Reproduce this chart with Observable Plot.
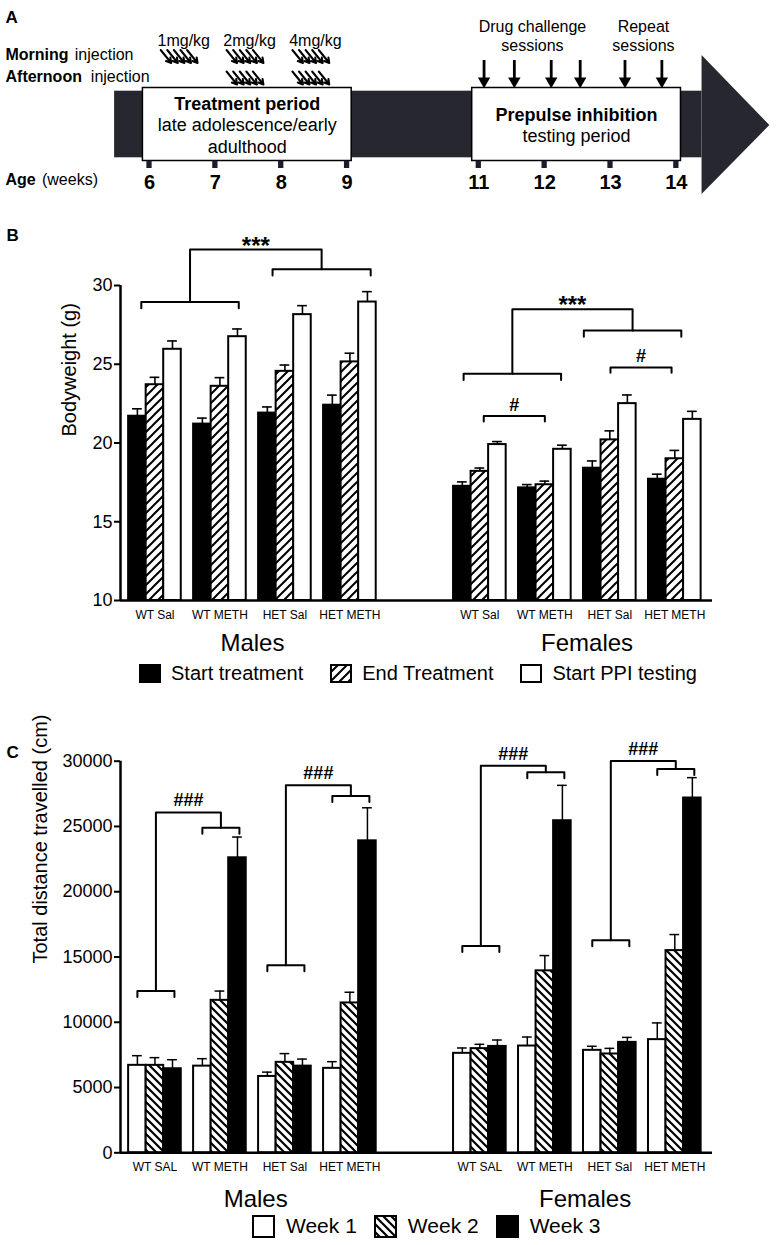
<!DOCTYPE html>
<html><head><meta charset="utf-8">
<script src="https://cdn.jsdelivr.net/npm/d3@7"></script>
<script src="https://cdn.jsdelivr.net/npm/@observablehq/plot@0.6"></script>
<style>
html,body{margin:0;padding:0;background:#fff;}
#page{position:relative;width:776px;height:1245px;overflow:hidden;background:#fff;font-family:"Liberation Sans",Arial,Helvetica,sans-serif;color:#000;}
#page > svg{display:block}
.legend{position:absolute;display:flex;align-items:center;white-space:nowrap;color:#000;}
.legend .item{display:flex;align-items:center;}
.legend .item svg{display:block;flex:none}
</style></head><body>
<svg width="0" height="0" style="position:absolute"><defs>
<pattern id="hatchB" patternUnits="userSpaceOnUse" width="9" height="9"><rect width="9" height="9" fill="white"/><path d="M-2,2 L2,-2 M0,9 L9,0 M7,11 L11,7" stroke="black" stroke-width="2"/></pattern>
<pattern id="hatchC" patternUnits="userSpaceOnUse" width="8" height="8"><rect width="8" height="8" fill="white"/><path d="M-2,6 L2,10 M0,0 L8,8 M6,-2 L10,2" stroke="black" stroke-width="2.2"/></pattern>
</defs></svg>
<div id="page"></div>
<script>
// ---------------- DATA ----------------
// Panel A timeline
const weeks = [6, 7, 8, 9, 11, 12, 13, 14];
const doseLabels = ["1mg/kg", "2mg/kg", "4mg/kg"];
const doseWeeks = [6, 7, 8];
const doseMorning = [true, true, true];
const doseAfternoon = [false, true, true];
const injectionDays = [1, 2, 3, 4, 5];
const sessionWeeks = [11.08, 11.54, 12.10, 12.54, 13.22, 13.78];
const sessionKinds = ["Drug challenge", "Drug challenge", "Drug challenge", "Drug challenge", "Repeat", "Repeat"];
const periodTitles = ["Treatment period", "Prepulse inhibition"];
const periodLines = [["late adolescence/early", "adulthood"], ["testing period"]];
const periodStart = [6, 11];
const periodEnd = [9, 14];

// Panel B: bodyweight (g)
const sexes = ["Males", "Females"];
const groupsBW = ["WT Sal", "WT METH", "HET Sal", "HET METH"];
const bwSeries = ["Start treatment", "End Treatment", "Start PPI testing"];
const bwMaleStart = [21.7, 21.2, 21.9, 22.4];
const bwMaleStartSem = [0.47, 0.38, 0.39, 0.64];
const bwMaleEnd = [23.7, 23.6, 24.55, 25.15];
const bwMaleEndSem = [0.47, 0.55, 0.40, 0.55];
const bwMalePPI = [25.95, 26.75, 28.15, 28.95];
const bwMalePPISem = [0.53, 0.49, 0.57, 0.66];
const bwFemaleStart = [17.25, 17.15, 18.4, 17.7];
const bwFemaleStartSem = [0.28, 0.21, 0.46, 0.32];
const bwFemaleEnd = [18.2, 17.35, 20.2, 19.0];
const bwFemaleEndSem = [0.21, 0.23, 0.57, 0.53];
const bwFemalePPI = [19.9, 19.6, 22.5, 21.5];
const bwFemalePPISem = [0.19, 0.26, 0.55, 0.51];
// significance brackets (bodyweight)
const bwPairFrom = ["WT Sal", "HET Sal"];
const bwPairTo = ["WT METH", "HET METH"];
const bwMaleBracketY = [28.95, 31.03];
const bwMaleJoinY = 32.28;
const bwFemaleBracketY = [24.40, 27.15];
const bwFemaleJoinY = 28.49;
const bwJoinLabel = "***";
const bwHashY = [21.71, 24.80]; // females, WT Sal vs WT METH, HET Sal vs HET METH
const bwHashLabel = "#";

// Panel C: total distance travelled (cm)
const groupsDist = ["WT SAL", "WT METH", "HET Sal", "HET METH"];
const distSeries = ["Week 1", "Week 2", "Week 3"];
const distMaleW1 = [6700, 6640, 5850, 6470];
const distMaleW1Sem = [740, 570, 330, 510];
const distMaleW2 = [6700, 11680, 6930, 11480];
const distMaleW2Sem = [590, 710, 670, 820];
const distMaleW3 = [6440, 22600, 6640, 23900];
const distMaleW3Sem = [690, 1590, 540, 2530];
const distFemaleW1 = [7620, 8180, 7850, 8670];
const distFemaleW1Sem = [410, 690, 310, 1280];
const distFemaleW2 = [7980, 13940, 7570, 15490];
const distFemaleW2Sem = [330, 1170, 430, 1230];
const distFemaleW3 = [8150, 25440, 8460, 27180];
const distFemaleW3Sem = [490, 2710, 380, 1560];
// ### brackets: saline group vs METH weeks 2-3
const distBase = ["WT SAL", "HET Sal"];
const distTarget = ["WT METH", "HET METH"];
const distMaleBaseY = [12395, 14366];
const distMaleTargetY = [24897, 27328];
const distMaleTopY = [26078, 28149];
const distFemaleBaseY = [15846, 16284];
const distFemaleTargetY = [29146, 29399];
const distFemaleTopY = [29652, 30013];
const distLabel = "###";

// ---------------- HELPERS ----------------
const F = '"Liberation Sans", Arial, Helvetica, sans-serif';
const page = document.getElementById("page");
const BW = 0.27;           // bar width in slot units
const xDom = [-0.53, 8.58]; // slot domain (males 0-3, gap, females 5-8)
const slotOf = (sex, gi) => (sex === "Males" ? 0 : 5) + gi;

function buildRows(groups, seriesNames, valsBySex, semBySex) {
  const rows = [];
  seriesNames.forEach((s, si) => {
    sexes.forEach(sex => {
      groups.forEach((g, gi) => {
        const slot = slotOf(sex, gi);
        const x1 = slot + (si - 1.5) * BW;
        rows.push({sex, group: g, series: s, si, slot, x1, x2: x1 + BW, cx: x1 + BW / 2,
          value: valsBySex[sex][si][gi], sem: semBySex[sex][si][gi]});
      });
    });
  });
  return rows;
}
function bracketPath(id, xa, xb, y, tip) {
  return [{id, x: xa, y: y - tip}, {id, x: xa, y}, {id, x: xb, y}, {id, x: xb, y: y - tip}];
}
function thickenAxis(svg) {
  svg.querySelectorAll('g[aria-label^="y-axis"] path, g[aria-label^="y-axis"] line').forEach(el => {
    el.setAttribute("stroke-width", "2");
  });
}
function addLegend(items, opt) {
  const div = document.createElement("div");
  div.className = "legend";
  div.style.left = opt.left + "px";
  div.style.top = opt.top + "px";
  div.style.fontSize = opt.fontSize + "px";
  items.forEach((it, i) => {
    const item = document.createElement("div");
    item.className = "item";
    if (i > 0) item.style.marginLeft = opt.gap + "px";
    item.innerHTML = `<svg width="${opt.sw + 2}" height="${opt.sh + 2}"><rect x="1" y="1" width="${opt.sw}" height="${opt.sh}" fill="${it.fill}" stroke="black" stroke-width="2"/></svg><span style="margin-left:${opt.tgap}px">${it.label}</span>`;
    div.appendChild(item);
  });
  page.appendChild(div);
}

// ---------------- PANEL A ----------------
const YA = {doseBase: 45, morningTop: 49.5, afternoonTop: 71, morningBase: 59.5, afternoonBase: 81.5,
  sessBase1: 31.5, sessBase2: 50, sessTop: 60, sessEnd: 79, bandTop: 90.7, bandBottom: 157.3,
  boxTop: 87.5, boxBottom: 160.5, tickTop: 160.5, tickBottom: 168, ageBase: 184, weekBase: 188,
  headTop: 55, headMid: 125, headBottom: 194};
const timelineStart = 5.47, timelineEnd = 14.39, arrowTip = 15.42;
const BAND = "#26272f";

const injArrows = [];
doseWeeks.forEach((w, i) => {
  const start = w + 0.17;
  [[YA.morningTop, doseMorning[i]], [YA.afternoonTop, doseAfternoon[i]]].forEach(([top, on]) => {
    if (!on) return;
    injectionDays.forEach(d => {
      const x1 = start + (d - 1) * 0.1;
      injArrows.push({x1, x2: x1 + 0.16, y1: top, y2: top + 13});
    });
  });
});
const doseText = doseLabels.map((t, i) => ({t, x: doseWeeks[i] + 0.17 + 0.28 + 0.07}));
const sessions = sessionWeeks.map((w, i) => ({w, kind: sessionKinds[i]}));
const sessGroups = d3.groups(sessions, d => d.kind).map(([kind, v]) => ({kind, x: d3.mean(v, d => d.w)}));
const periods = periodTitles.map((t, i) => ({title: t, lines: periodLines[i], x1: periodStart[i] - 0.1, x2: periodEnd[i] + 0.07}));
const periodLineRows = periods.flatMap(p => p.lines.map((l, j) => ({l, j, x: (p.x1 + p.x2) / 2, n: p.lines.length})));

const ctx = document.createElement("canvas").getContext("2d");
function textW(s, font) { ctx.font = font; return ctx.measureText(s).width; }
const leftRows = [
  {bold: "Morning", rest: "injection", y: YA.morningBase},
  {bold: "Afternoon", rest: "injection", y: YA.afternoonBase},
  {bold: "Age", rest: "(weeks)", y: YA.ageBase}
];
const leftMarks = leftRows.flatMap(r => {
  const bw = textW(r.bold, `bold 16px ${F}`);
  const sp = textW(" ", `16px ${F}`) * (r.bold === "Afternoon" ? 2 : 1.4);
  return [
    Plot.text([r], {y: "y", text: "bold", frameAnchor: "left", textAnchor: "start", lineAnchor: "bottom", dx: 5, fontWeight: "bold", fontSize: 16}),
    Plot.text([r], {y: "y", text: "rest", frameAnchor: "left", textAnchor: "start", lineAnchor: "bottom", dx: 5 + bw + sp, fontSize: 16})
  ];
});

const plotA = Plot.plot({
  width: 776, height: 200, margin: 0,
  x: {domain: [6, 13], range: [149, 610], axis: null},
  y: {domain: [0, 200], range: [0, 200], axis: null},
  style: {fontFamily: F, fontSize: "16px", color: "black", background: "white", overflow: "visible"},
  marks: [
    Plot.text(["A"], {frameAnchor: "top-left", dx: 5, dy: 22, text: d => d, textAnchor: "start", lineAnchor: "bottom", fontWeight: "bold", fontSize: 17}),
    Plot.rect([0], {x1: timelineStart, x2: timelineEnd, y1: YA.bandTop, y2: YA.bandBottom, fill: BAND}),
    Plot.areaY([{x: timelineEnd, a: YA.headTop, b: YA.headBottom}, {x: arrowTip, a: YA.headMid, b: YA.headMid}], {x: "x", y1: "a", y2: "b", fill: BAND}),
    Plot.rect(periods, {x1: "x1", x2: "x2", y1: YA.boxTop, y2: YA.boxBottom, fill: "white", stroke: "black", strokeWidth: 1.5}),
    Plot.rect(weeks, {x1: d => d - 0.04, x2: d => d + 0.04, y1: YA.tickTop, y2: YA.tickBottom, fill: "#1b1d2b"}),
    Plot.text(weeks, {x: d => d, y: YA.weekBase, text: d => String(d), fontWeight: "bold", fontSize: 20, lineAnchor: "bottom"}),
    Plot.text(periods, {x: d => (d.x1 + d.x2) / 2, y: d => d.lines.length === 2 ? 109.3 : 120.5, text: "title", fontWeight: "bold", fontSize: 18, lineAnchor: "bottom"}),
    Plot.text(periodLineRows, {x: "x", y: d => (d.n === 2 ? 130.5 : 141.5) + d.j * 21.5, text: "l", fontSize: 18, lineAnchor: "bottom"}),
    Plot.text(doseText, {x: "x", y: YA.doseBase, text: "t", fontSize: 16, lineAnchor: "bottom"}),
    Plot.arrow(injArrows, {x1: "x1", y1: "y1", x2: "x2", y2: "y2", headLength: 6, strokeWidth: 2, stroke: "black"}),
    Plot.ruleX(sessions, {x: "w", y1: YA.sessTop, y2: YA.sessEnd, strokeWidth: 2.8, stroke: "black"}),
    Plot.dot(sessions, {x: "w", y: 80.5, symbol: "triangle", r: 4.6, rotate: 180, fill: "black", stroke: "none"}),
    Plot.text(sessGroups, {x: "x", y: YA.sessBase1, text: d => d.kind === "Repeat" ? "Repeat" : "Drug challenge", fontSize: 16, lineAnchor: "bottom"}),
    Plot.text(sessGroups, {x: "x", y: YA.sessBase2, text: () => "sessions", fontSize: 16, lineAnchor: "bottom"}),
    ...leftMarks
  ]
});
page.appendChild(plotA);

// ---------------- PANEL B ----------------
const bwRows = buildRows(groupsBW, bwSeries,
  {Males: [bwMaleStart, bwMaleEnd, bwMalePPI], Females: [bwFemaleStart, bwFemaleEnd, bwFemalePPI]},
  {Males: [bwMaleStartSem, bwMaleEndSem, bwMalePPISem], Females: [bwFemaleStartSem, bwFemaleEndSem, bwFemalePPISem]});
const bwFromOff = {Males: [-0.21, -0.19], Females: [-0.25, -0.40]};
const bwToOff = {Males: [0.29, 0.32], Females: [0.25, 0.10]};
const bwBrk = [], bwJoinText = [];
sexes.forEach(sex => {
  const ys = sex === "Males" ? bwMaleBracketY : bwFemaleBracketY;
  const joinY = sex === "Males" ? bwMaleJoinY : bwFemaleJoinY;
  const mids = [];
  bwPairFrom.forEach((g, k) => {
    const xa = slotOf(sex, groupsBW.indexOf(g)) + bwFromOff[sex][k];
    const xb = slotOf(sex, groupsBW.indexOf(bwPairTo[k])) + bwToOff[sex][k];
    bwBrk.push(...bracketPath(sex + k, xa, xb, ys[k], 0.4));
    mids.push({x: (xa + xb) / 2, y: ys[k]});
  });
  bwBrk.push({id: sex + "j", x: mids[0].x, y: mids[0].y}, {id: sex + "j", x: mids[0].x, y: joinY},
             {id: sex + "j", x: mids[1].x, y: joinY}, {id: sex + "j", x: mids[1].x, y: mids[1].y});
  bwJoinText.push({x: (mids[0].x + mids[1].x) / 2, y: joinY, t: bwJoinLabel});
});
const hashFromOff = [0.06, 0.01], hashToOff = [0.0, -0.05];
const bwHashText = [];
bwPairFrom.forEach((g, k) => {
  const xa = slotOf("Females", groupsBW.indexOf(g)) + hashFromOff[k];
  const xb = slotOf("Females", groupsBW.indexOf(bwPairTo[k])) + hashToOff[k];
  bwBrk.push(...bracketPath("h" + k, xa, xb, bwHashY[k], 0.34));
  bwHashText.push({x: (xa + xb) / 2, y: bwHashY[k], t: bwHashLabel});
});
const labelRowsBW = sexes.flatMap(sex => groupsBW.map((g, gi) => ({g, x: slotOf(sex, gi)})));

const plotB = Plot.plot({
  width: 776, height: 500, marginLeft: 120, marginRight: 64, marginTop: 85, marginBottom: 100,
  x: {domain: xDom, axis: null},
  y: {domain: [10, 30], ticks: 5, tickSize: 6, tickPadding: 2, label: null},
  style: {fontFamily: F, fontSize: "18px", color: "black", background: "white", overflow: "visible"},
  marks: [
    Plot.rect(bwRows.filter(d => d.si === 0), {x1: "x1", x2: "x2", y1: 10, y2: "value", fill: "black", stroke: "black", strokeWidth: 2}),
    Plot.rect(bwRows.filter(d => d.si === 1), {x1: "x1", x2: "x2", y1: 10, y2: "value", fill: "url(#hatchB)", stroke: "black", strokeWidth: 2}),
    Plot.rect(bwRows.filter(d => d.si === 2), {x1: "x1", x2: "x2", y1: 10, y2: "value", fill: "white", stroke: "black", strokeWidth: 2}),
    Plot.ruleX(bwRows, {x: "cx", y1: "value", y2: d => d.value + d.sem, strokeWidth: 1.6}),
    Plot.ruleY(bwRows, {y: d => d.value + d.sem, x1: d => d.cx - 0.075, x2: d => d.cx + 0.075, strokeWidth: 1.6}),
    Plot.ruleY([10], {x1: xDom[0], x2: xDom[1], strokeWidth: 2.5}),
    Plot.ruleX([xDom[0]], {y1: 10, y2: 30, strokeWidth: 2.5}),
    Plot.line(bwBrk, {x: "x", y: "y", z: "id", stroke: "black", strokeWidth: 2, curve: "linear"}),
    Plot.text(bwJoinText, {x: "x", y: "y", text: "t", fontWeight: "bold", fontSize: 24, lineAnchor: "bottom", dy: 4}),
    Plot.text(bwHashText, {x: "x", y: "y", text: "t", fontWeight: "bold", fontSize: 18, lineAnchor: "bottom", dy: -5}),
    Plot.text(labelRowsBW, {x: "x", y: 10, text: "g", fontSize: 12, lineAnchor: "bottom", dy: 18}),
    Plot.text(sexes, {x: d => d === "Males" ? 1.5 : 6.65, y: 10, text: d => d, fontSize: 24, lineAnchor: "bottom", dy: 50}),
    Plot.text(["Bodyweight (g)"], {frameAnchor: "left", text: d => d, rotate: -90, fontSize: 20, dx: -51, dy: -6.5}),
    Plot.text(["B"], {frameAnchor: "top-left", text: d => d, textAnchor: "start", lineAnchor: "bottom", fontWeight: "bold", fontSize: 17, dx: -114, dy: -45})
  ]
});
thickenAxis(plotB);
page.appendChild(plotB);
addLegend(bwSeries.map((s, i) => ({label: s, fill: ["black", "url(#hatchB)", "white"][i]})),
  {left: 139, top: 662, fontSize: 20, gap: 27, tgap: 10, sw: 20, sh: 17});

// ---------------- PANEL C ----------------
const distRows = buildRows(groupsDist, distSeries,
  {Males: [distMaleW1, distMaleW2, distMaleW3], Females: [distFemaleW1, distFemaleW2, distFemaleW3]},
  {Males: [distMaleW1Sem, distMaleW2Sem, distMaleW3Sem], Females: [distFemaleW1Sem, distFemaleW2Sem, distFemaleW3Sem]});
const cBrk = [], cText = [];
const TIP = 460;
sexes.forEach(sex => {
  const baseY = sex === "Males" ? distMaleBaseY : distFemaleBaseY;
  const tgtY = sex === "Males" ? distMaleTargetY : distFemaleTargetY;
  const topY = sex === "Males" ? distMaleTopY : distFemaleTopY;
  distBase.forEach((g, k) => {
    const b = slotOf(sex, groupsDist.indexOf(g));
    const t = slotOf(sex, groupsDist.indexOf(distTarget[k]));
    const id = sex + k;
    cBrk.push(...bracketPath(id + "b", b - 0.27, b + 0.30, baseY[k], TIP));
    cBrk.push(...bracketPath(id + "t", t - 0.27, t + 0.30, tgtY[k], TIP));
    const bm = b + 0.015, tm = t + 0.015;
    cBrk.push({id: id + "c", x: bm, y: baseY[k]}, {id: id + "c", x: bm, y: topY[k]},
              {id: id + "c", x: tm, y: topY[k]}, {id: id + "c", x: tm, y: tgtY[k]});
    cText.push({x: (bm + tm) / 2, y: topY[k], t: distLabel});
  });
});
const labelRowsC = sexes.flatMap(sex => groupsDist.map((g, gi) => ({g, x: slotOf(sex, gi)})));

const plotC = Plot.plot({
  width: 776, height: 545, marginLeft: 120, marginRight: 64, marginTop: 60.7, marginBottom: 92.7,
  x: {domain: xDom, axis: null},
  y: {domain: [0, 30000], ticks: 6, tickFormat: d3.format("d"), tickSize: 6, tickPadding: 2, label: null},
  style: {fontFamily: F, fontSize: "18px", color: "black", background: "white", overflow: "visible"},
  marks: [
    Plot.rect(distRows.filter(d => d.si === 0), {x1: "x1", x2: "x2", y1: 0, y2: "value", fill: "white", stroke: "black", strokeWidth: 2}),
    Plot.rect(distRows.filter(d => d.si === 1), {x1: "x1", x2: "x2", y1: 0, y2: "value", fill: "url(#hatchC)", stroke: "black", strokeWidth: 2}),
    Plot.rect(distRows.filter(d => d.si === 2), {x1: "x1", x2: "x2", y1: 0, y2: "value", fill: "black", stroke: "black", strokeWidth: 2}),
    Plot.ruleX(distRows, {x: "cx", y1: "value", y2: d => d.value + d.sem, strokeWidth: 1.5}),
    Plot.ruleY(distRows, {y: d => d.value + d.sem, x1: d => d.cx - 0.075, x2: d => d.cx + 0.075, strokeWidth: 1.5}),
    Plot.ruleY([0], {x1: xDom[0], x2: xDom[1], strokeWidth: 2.5}),
    Plot.ruleX([xDom[0]], {y1: 0, y2: 30000, strokeWidth: 2.5}),
    Plot.line(cBrk, {x: "x", y: "y", z: "id", stroke: "black", strokeWidth: 2, curve: "linear"}),
    Plot.text(cText, {x: "x", y: "y", text: "t", fontWeight: "bold", fontSize: 18, lineAnchor: "bottom", dy: -6}),
    Plot.text(labelRowsC, {x: "x", y: 0, text: "g", fontSize: 12, lineAnchor: "bottom", dy: 18}),
    Plot.text(sexes, {x: d => d === "Males" ? 1.55 : 6.62, y: 0, text: d => d, fontSize: 24, lineAnchor: "bottom", dy: 54}),
    Plot.text(["Total distance travelled (cm)"], {frameAnchor: "left", text: d => d, rotate: -90, fontSize: 20, dx: -80, dy: 6.5}),
    Plot.text(["C"], {frameAnchor: "top-left", text: d => d, textAnchor: "start", lineAnchor: "bottom", fontWeight: "bold", fontSize: 17, dx: -114, dy: -3.7})
  ]
});
thickenAxis(plotC);
page.appendChild(plotC);
addLegend(distSeries.map((s, i) => ({label: s, fill: ["white", "url(#hatchC)", "black"][i]})),
  {left: 252, top: 1214, fontSize: 21, gap: 17, tgap: 11, sw: 21, sh: 21});
</script>
</body></html>
